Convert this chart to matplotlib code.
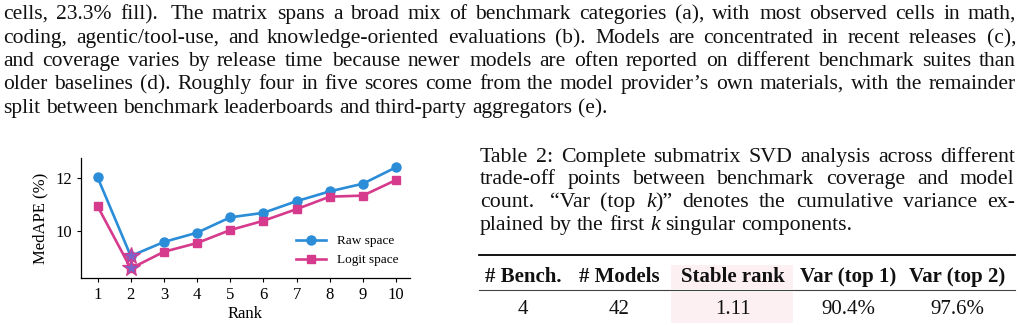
import matplotlib
matplotlib.use('Agg')
import matplotlib.pyplot as plt
from matplotlib.patches import Rectangle
from matplotlib.lines import Line2D

W, H = 1023, 326
SERIF = 'Liberation Serif'
BLUE = '#2b8cd8'
PINK = '#d63a8c'

# chart data
ranks = [1, 2, 3, 4, 5, 6, 7, 8, 9, 10]
raw_medape = [12.04, 9.07, 9.60, 9.95, 10.53, 10.70, 11.14, 11.51, 11.80, 12.42]
logit_medape = [10.95, 8.60, 9.23, 9.56, 10.05, 10.40, 10.84, 11.31, 11.35, 11.94]

# page text
paragraph_lines = [
    "cells, 23.3% fill).  The matrix spans a broad mix of benchmark categories (a), with most observed cells in math,",
    "coding, agentic/tool-use, and knowledge-oriented evaluations (b). Models are concentrated in recent releases (c),",
    "and coverage varies by release time because newer models are often reported on different benchmark suites than",
    "older baselines (d). Roughly four in five scores come from the model provider\u2019s own materials, with the remainder",
    "split between benchmark leaderboards and third-party aggregators (e).",
]
caption_lines = [
    "Table 2: Complete submatrix SVD analysis across different",
    "trade-off points between benchmark coverage and model",
    "count.  \u201cVar (top *k*)\u201d denotes the cumulative variance ex-",
    "plained by the first *k* singular components.",
]

# table
table_header = ['# Bench.', '# Models', 'Stable rank', 'Var (top 1)', 'Var (top 2)']
table_row = ['4', '42', '1.11', '90.4%', '97.6%']
highlight_col = 2


def fx(x):
    return x / W


def fy(y):
    return 1 - y / H


fig = plt.figure(figsize=(W / 100, H / 100), dpi=100)
renderer = fig.canvas.get_renderer()


def width_of(s, size, italic=False, weight='normal'):
    t = fig.text(0, 0, s, family=SERIF, size=size,
                 style='italic' if italic else 'normal', weight=weight)
    w = t.get_window_extent(renderer).width
    t.remove()
    return w


def segments(word):
    # *...* marks italic
    parts = word.split('*')
    return [(p, i % 2 == 1) for i, p in enumerate(parts) if p]


def split_line(line):
    words, gaps, w = [], [], 0
    for tok in line.split(' '):
        if tok == '':
            w += 0.6
            continue
        if words:
            gaps.append(w)
        words.append(tok)
        w = 1
    return words, gaps


def natural_width(line, size):
    words, gaps = split_line(line)
    space = width_of('x x', size) - width_of('xx', size)
    total = sum(width_of(s, size, it) for wd in words for s, it in segments(wd))
    return total + space * sum(gaps)


def set_line(line, x0, x1, base, size, justify=True):
    words, gaps = split_line(line)
    widths = [sum(width_of(s, size, it) for s, it in segments(wd)) for wd in words]
    if justify and gaps:
        unit = (x1 - x0 - sum(widths)) / sum(gaps)
    else:
        unit = width_of('x x', size) - width_of('xx', size)
    x = x0
    for i, wd in enumerate(words):
        xx = x
        for s, it in segments(wd):
            fig.text(fx(round(xx)), fy(round(base)), s, family=SERIF, size=size,
                     style='italic' if it else 'normal',
                     ha='left', va='baseline', color='#111111')
            xx += width_of(s, size, it)
        if i < len(gaps):
            x += widths[i] + gaps[i] * unit


def set_block(lines, x0, x1, baselines, fill=0.975):
    ref = 12
    widest = max(natural_width(l, ref) for l in lines[:-1])
    size = ref * (x1 - x0) * fill / widest
    for i, (line, b) in enumerate(zip(lines, baselines)):
        set_line(line, x0, x1, b, size, justify=(i < len(lines) - 1))


# paragraph and caption
set_block(paragraph_lines, 3, 1016, [19, 43, 66, 89, 113])
set_block(caption_lines, 480, 1015, [162, 184, 207, 230], fill=0.97)

# table
col_x = [523, 619, 733, 848, 957]
fig.add_artist(Rectangle((fx(671), fy(289)), fx(793) - fx(671), fy(265) - fy(289),
                         transform=fig.transFigure, color='#fcf0f3', lw=0))
fig.add_artist(Rectangle((fx(671), fy(323)), fx(793) - fx(671), fy(292) - fy(323),
                         transform=fig.transFigure, color='#fcf0f3', lw=0))
fig.add_artist(Line2D([fx(479), fx(1015)], [fy(254.5)] * 2, transform=fig.transFigure,
                      color='black', lw=1.3))
fig.add_artist(Line2D([fx(479), fx(1015)], [fy(290)] * 2, transform=fig.transFigure,
                      color='#444444', lw=0.8))
for x, h, v in zip(col_x, table_header, table_row):
    fig.text(fx(x), fy(282), h, family=SERIF, size=15, weight='bold',
             ha='center', va='baseline', color='#111111')
    fig.text(fx(x), fy(314), v, family=SERIF, size=15,
             ha='center', va='baseline', color='#111111')

# chart
ax = fig.add_axes([fx(81), fy(278), fx(410) - fx(81), fy(158) - fy(278)])
ax.plot(ranks, raw_medape, color=BLUE, marker='o', ms=6.5, lw=1.9, label='Raw space')
ax.plot(ranks, logit_medape, color=PINK, marker='s', ms=6, lw=1.9, label='Logit space')
for series in (raw_medape, logit_medape):
    best = series.index(min(series))
    ax.plot(ranks[best], series[best], marker='*', ms=13, mfc='#7b63cc',
            mec=PINK, mew=0.9, ls='none', zorder=5)
ax.set_xlim(0.5, 10.42)
ax.set_ylim(8.24, 12.77)
ax.set_xticks(ranks)
ax.set_yticks([10, 12])
ax.spines['top'].set_visible(False)
ax.spines['right'].set_visible(False)
for sp in ax.spines.values():
    sp.set_linewidth(0.9)
ax.tick_params(length=3, width=0.8, labelsize=12)
for lab in ax.get_xticklabels() + ax.get_yticklabels():
    lab.set_family(SERIF)
ax.set_xlabel('Rank', family=SERIF, size=12, labelpad=2)
ax.set_ylabel('MedAPE (%)', family=SERIF, size=12, labelpad=5)
ax.legend(loc='lower right', frameon=False, prop={'family': SERIF, 'size': 9.5},
          handlelength=2.3, handletextpad=0.8, labelspacing=0.5)

fig.savefig('out.png', dpi=100)
